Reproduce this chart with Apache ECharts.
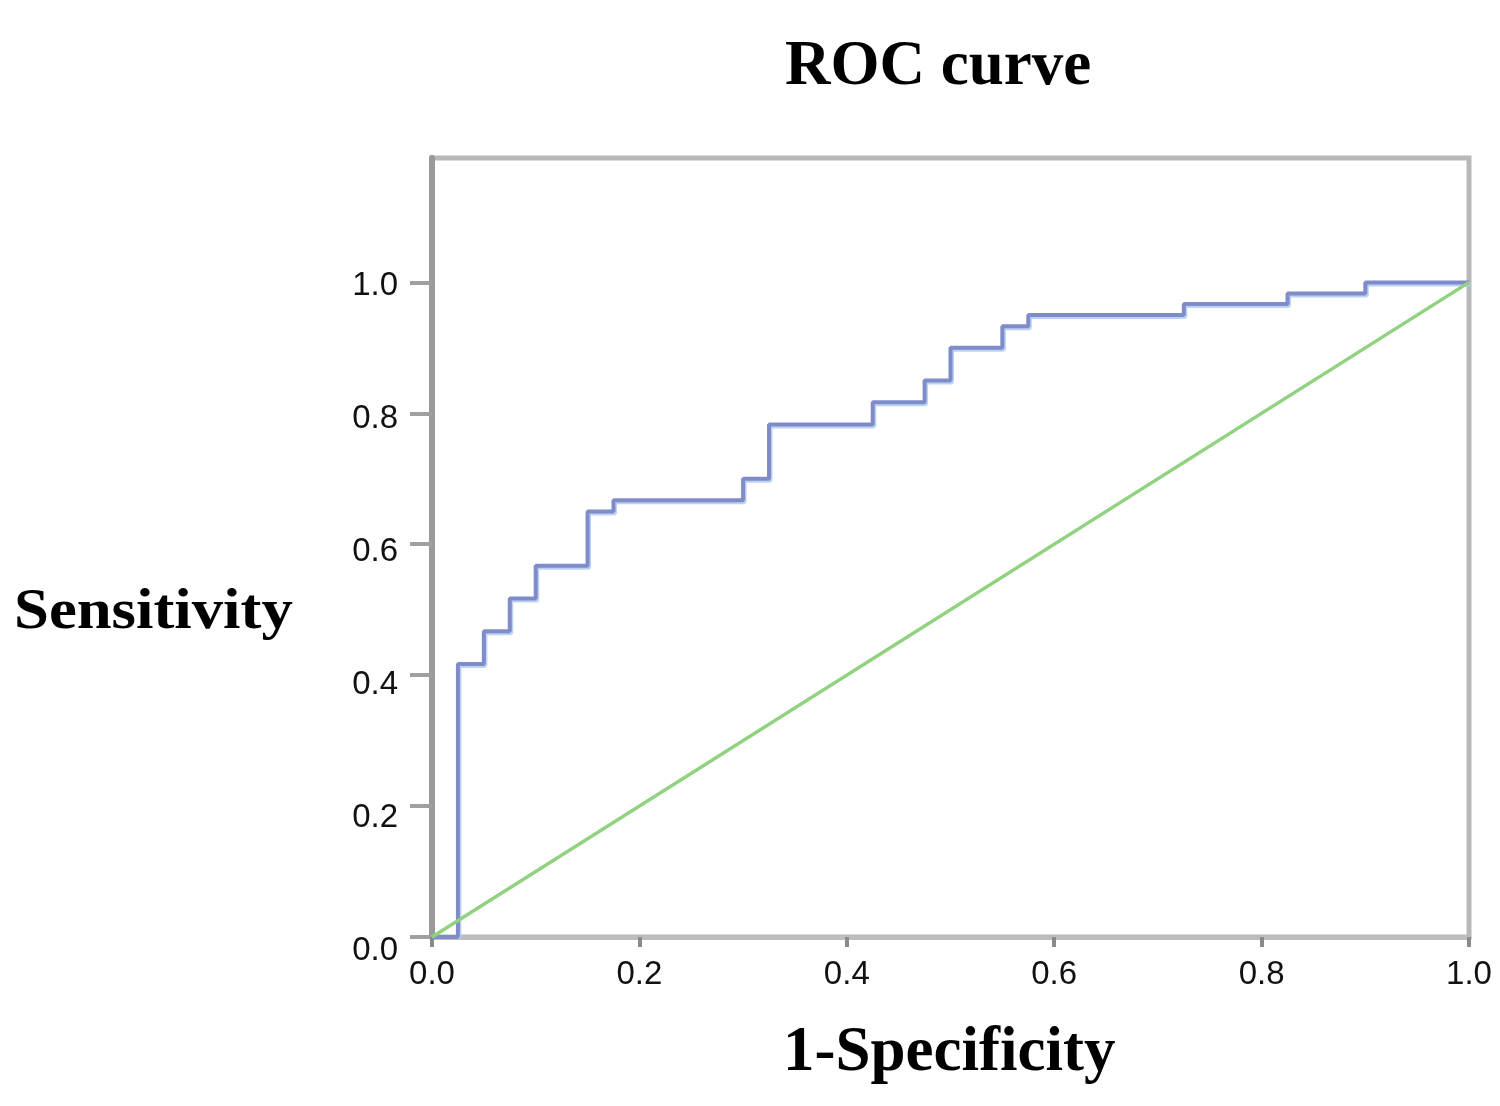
<!DOCTYPE html>
<html>
<head>
<meta charset="utf-8">
<script src="https://cdn.jsdelivr.net/npm/echarts@6/dist/echarts.min.js"></script>
<style>
html,body{margin:0;padding:0;background:#fff;}
#chart{width:1500px;height:1106px;}
</style>
</head>
<body>
<div id="chart"></div>
<script>
// 1-Specificity (false positive rate) at each step corner
var fpr = [0, 0.025, 0.05, 0.075, 0.1, 0.15, 0.175, 0.3, 0.325, 0.425, 0.475, 0.5, 0.55, 0.575, 0.725, 0.825, 0.9, 1.0];
// Sensitivity reached after each step
var tpr = [0, 0.417, 0.467, 0.517, 0.567, 0.65, 0.667, 0.7, 0.783, 0.817, 0.85, 0.9, 0.933, 0.95, 0.967, 0.983, 1.0, 1.0];
// reference diagonal
var diagX = [0, 1];
var diagY = [0, 1];
var xTicks = [0, 0.2, 0.4, 0.6, 0.8, 1.0];
var yTicks = [0, 0.2, 0.4, 0.6, 0.8, 1.0];

var chart = echarts.init(document.getElementById('chart'), null, {renderer: 'canvas'});
var rocData = fpr.map(function (x, i) { return [x, tpr[i]]; });
var diagData = diagX.map(function (x, i) { return [x, diagY[i]]; });

var labelFont = {fontFamily: '"Liberation Sans", Arial, sans-serif', fontSize: 33, color: '#111'};

// y labels in the original sit slightly lower than their ticks, more so near 0
var yRich = {};
yTicks.forEach(function (v, i) {
  var shift = Math.round((1 - v) * 10 + 4);
  yRich['p' + i] = Object.assign({padding: [shift * 2, 0, 0, 0]}, labelFont);
});

chart.setOption({
  animation: false,
  backgroundColor: '#fff',
  grid: {left: 432, right: 31, top: 158, bottom: 169, show: true, borderColor: '#b8b8b8', borderWidth: 5, backgroundColor: 'transparent'},
  xAxis: {
    type: 'value', min: 0, max: 1, interval: 0.2,
    axisLine: {show: true, onZero: false, lineStyle: {color: '#bdbdbd', width: 5}},
    axisTick: {show: true, inside: false, length: 10, customValues: xTicks, lineStyle: {color: '#8a8a8a', width: 4}},
    axisLabel: Object.assign({margin: 21, customValues: xTicks, formatter: function (v) { return v.toFixed(1); }}, labelFont),
    splitLine: {show: false}
  },
  yAxis: [{
    type: 'value', min: 0, max: 1.19, interval: 0.2,
    axisLine: {show: true, onZero: false, lineStyle: {color: '#999999', width: 6}},
    axisTick: {show: true, inside: false, length: 22, customValues: yTicks, lineStyle: {color: '#a0a0a0', width: 4}},
    axisLabel: Object.assign({
      margin: 34, customValues: yTicks, rich: yRich,
      formatter: function (v) {
        var idx = Math.round(v / 0.2);
        return '{p' + idx + '|' + v.toFixed(1) + '}';
      }
    }, labelFont),
    splitLine: {show: false}
  }, {
    type: 'value', min: 0, max: 1.19, position: 'right',
    axisLine: {show: true, lineStyle: {color: '#9a9a9a', width: 5}},
    axisTick: {show: false}, axisLabel: {show: false}, splitLine: {show: false}
  }],
  series: [{
    type: 'line', name: 'ROC', data: rocData, step: 'end', symbol: 'none',
    lineStyle: {color: '#7f8cc9', width: 4, shadowColor: 'rgba(180,205,240,0.9)', shadowBlur: 0, shadowOffsetX: 1.5, shadowOffsetY: 2}, z: 3
  }, {
    type: 'line', name: 'Reference', data: diagData, symbol: 'none',
    lineStyle: {color: '#90d27f', width: 3.5}, z: 4
  }],
  graphic: [{
    type: 'text', left: 785, top: 36,
    style: {text: 'ROC curve', font: 'bold 63px "Liberation Serif", "Times New Roman", serif', fill: '#000'}
  }, {
    type: 'text', left: 783, top: 1022,
    style: {text: '1-Specificity', font: 'bold 63px "Liberation Serif", "Times New Roman", serif', fill: '#000'}
  }, {
    type: 'text', x: 14, y: 642, scaleX: 1.12,
    style: {text: 'Sensitivity', x: 0, y: 0, textAlign: 'left', textVerticalAlign: 'bottom', font: 'bold 56px "Liberation Serif", "Times New Roman", serif', fill: '#000'}
  }]
});
</script>
</body>
</html>
